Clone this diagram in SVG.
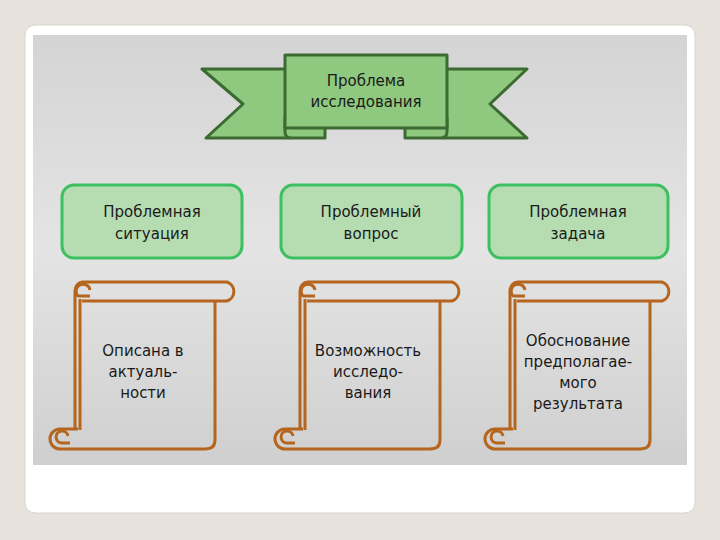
<svg xmlns="http://www.w3.org/2000/svg" width="720" height="540" viewBox="0 0 720 540">
<defs>
<linearGradient id="bg" x1="0" y1="0" x2="0" y2="1"><stop offset="0" stop-color="#d4d4d4"/><stop offset="0.5" stop-color="#e4e4e4"/><stop offset="1" stop-color="#cfcfcf"/></linearGradient>
<g id="scroll" fill="none" stroke="#b5651d" stroke-width="3" stroke-linejoin="round">
<path d="M82,282 H227 A10,10 0 0 1 227,301 H82"/>
<path d="M82,282 A9,9 0 0 0 75,291 V430"/>
<path d="M80,299 V430"/>
<path d="M90,290 A7,7 0 1 0 78,296 H90" stroke-width="3"/>
<path d="M215,301 V440 Q215,449 205,449 H60 A10,10 0 0 1 60,429 H78"/>
<path d="M68,436 A6,6 0 1 0 62,443 H70" stroke-width="3"/>
</g>
</defs>
<style>
text{font-family:"DejaVu Sans",Verdana,sans-serif;font-size:15px;fill:#1a1a1a;text-anchor:middle}
.box{fill:#b6dcb2;stroke:#3cc060;stroke-width:3}
.ban{fill:#8fc97f;stroke:#3b6b30;stroke-width:3;stroke-linejoin:round}
</style>
<rect width="720" height="540" fill="#e7e3dc"/>
<rect x="25" y="25" width="670" height="488" rx="10" fill="#fff" stroke="#d8d4cc"/>
<rect x="33" y="35" width="654" height="430" fill="url(#bg)"/>
<g id="banner">
<polygon class="ban" points="202,69 290,69 290,138 206,138 243,104"/>
<polygon class="ban" points="527,69 442,69 442,138 527,138 490,104"/>
<path class="ban" d="M285,118 V132 Q285,138 292,138 H325 V128 Z"/>
<path class="ban" d="M447,118 V132 Q447,138 440,138 H405 V128 Z"/>
<rect class="ban" x="285" y="55" width="162" height="73"/>
<text x="366" y="86">Проблема</text><text x="366" y="107">исследования</text>
</g>
<g id="n1"><rect class="box" x="62" y="185" width="180" height="73" rx="12"/><text x="152" y="217">Проблемная</text><text x="152" y="239">ситуация</text></g>
<g id="n2"><rect class="box" x="281" y="185" width="181" height="73" rx="12"/><text x="371" y="217">Проблемный</text><text x="371" y="239">вопрос</text></g>
<g id="n3"><rect class="box" x="489" y="185" width="179" height="73" rx="12"/><text x="578" y="217">Проблемная</text><text x="578" y="239">задача</text></g>
<g id="s1"><use href="#scroll"/><text x="143" y="356">Описана в</text><text x="143" y="377">актуаль-</text><text x="143" y="398">ности</text></g>
<g id="s2"><use href="#scroll" x="225"/><text x="368" y="356">Возможность</text><text x="368" y="377">исследо-</text><text x="368" y="398">вания</text></g>
<g id="s3"><use href="#scroll" x="435"/><text x="578" y="346">Обоснование</text><text x="578" y="367">предполагае-</text><text x="578" y="388">мого</text><text x="578" y="409">результата</text></g>
<g id="connectors"/>
</svg>
